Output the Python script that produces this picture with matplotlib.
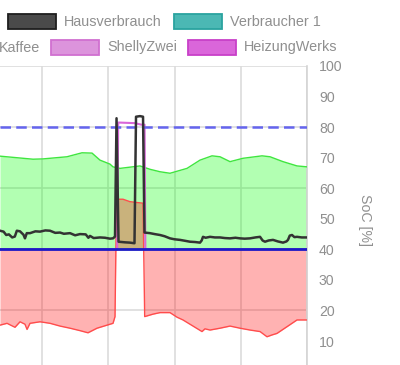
import matplotlib
matplotlib.use('Agg')
import matplotlib.pyplot as plt
from matplotlib.patches import Rectangle

plt.rcParams['font.family'] = ['Liberation Sans', 'DejaVu Sans']

# time axis in hours, values on the SoC scale (power zero line sits at 40)
pv_t = [9.366, 9.864, 10.015, 10.377, 10.604, 10.755, 10.875, 11.026, 11.072, 11.177,
        11.479, 11.630, 11.781, 11.932, 12.189, 12.385, 12.566, 12.687, 12.838, 13.034,
        13.321, 13.442, 13.638, 13.849, 14.0]
pv = [70.5, 69.5, 69.6, 70.3, 71.6, 71.5, 69.2, 67.9, 67.0, 66.5,
      67.3, 66.2, 65.4, 64.9, 66.5, 69.2, 70.6, 70.3, 68.7, 69.8,
      70.6, 70.3, 68.7, 67.3, 67.0]

haus_t = [9.366, 9.42, 9.46, 9.50, 9.55, 9.59, 9.62, 9.668, 9.72, 9.743,
          9.77, 9.819, 9.90, 9.970, 10.05, 10.121, 10.20, 10.272, 10.33, 10.423,
          10.50, 10.574, 10.66, 10.70, 10.725, 10.78, 10.875, 10.95, 11.026, 11.072,
          11.102, 11.125, 11.155, 11.253, 11.328, 11.396, 11.419, 11.479, 11.525, 11.547,
          11.630, 11.70, 11.781, 11.85, 11.932, 12.00, 12.083, 12.16, 12.234, 12.31,
          12.385, 12.41, 12.430, 12.47, 12.536, 12.61, 12.687, 12.76, 12.838, 12.92,
          12.989, 13.06, 13.140, 13.22, 13.291, 13.33, 13.366, 13.42, 13.487, 13.56,
          13.638, 13.69, 13.713, 13.74, 13.774, 13.81, 13.849, 13.92, 14.0]
haus = [46.1, 45.8, 44.7, 44.9, 43.9, 44.2, 46.1, 45.9, 44.8, 43.6,
        45.3, 45.3, 45.9, 45.8, 46.2, 46.1, 45.4, 45.5, 45.1, 45.3,
        44.6, 45.0, 44.9, 43.8, 44.4, 43.7, 43.9, 43.8, 43.5, 43.6,
        44.2, 82.9, 42.5, 42.3, 42.2, 42.0, 83.4, 83.6, 83.4, 45.5,
        45.3, 45.0, 44.7, 44.3, 43.6, 43.3, 43.1, 42.8, 42.5, 42.4,
        42.2, 42.9, 44.1, 43.8, 44.1, 43.9, 43.9, 43.7, 43.6, 43.8,
        43.6, 43.5, 43.6, 43.9, 44.1, 42.9, 42.5, 42.9, 43.1, 42.6,
        42.2, 42.6, 43.1, 44.5, 44.7, 44.0, 44.1, 43.9, 43.9]

netz_t = [9.366, 9.472, 9.592, 9.668, 9.743, 9.774, 9.819, 9.970, 10.121, 10.272,
          10.423, 10.574, 10.694, 10.830, 10.981, 11.072, 11.102, 11.125, 11.223, 11.328,
          11.525, 11.550, 11.675, 11.781, 11.932, 12.038, 12.128, 12.279, 12.415, 12.460,
          12.536, 12.687, 12.838, 12.989, 13.140, 13.291, 13.396, 13.472, 13.547, 13.698,
          13.849, 14.0]
netz = [15.2, 15.8, 14.5, 16.3, 15.5, 13.8, 15.8, 16.3, 15.8, 14.9,
        14.2, 13.4, 12.7, 14.2, 15.2, 15.8, 18.0, 56.4, 56.4, 55.6,
        55.1, 18.0, 18.8, 19.3, 19.3, 17.8, 16.9, 14.9, 13.1, 14.0,
        13.6, 14.2, 14.9, 14.2, 13.6, 13.1, 11.4, 12.0, 12.5, 14.7,
        16.9, 16.9]

heizung_t = [9.366, 11.135, 11.150, 11.40, 11.50, 11.548, 11.560, 14.0]
heizung = [40, 40, 81.5, 81.3, 80.8, 80.8, 40, 40]

batterie_t = [9.366, 14.0]
batterie = [40, 40]
soc = [80, 80]

hours = [10, 11, 12, 13, 14]
grid_levels = [0, 20, 40, 60, 80, 100]
soc_ticks = list(range(10, 101, 10))

legend_rows = [
    [('Hausverbrauch', '#4a4a4a', '#1e1e1e', 8, 21.5),
     ('Verbraucher 1', '#4bb8b4', '#2aa39f', 174, 21.5)],
    [('Kaffee', None, None, -57, 47.5),
     ('ShellyZwei', '#dc94dc', '#d070d0', 51, 47.5),
     ('HeizungWerks', '#da66da', '#c840c8', 188, 47.5)],
]

text_col = '#8f8f8f'
W, H = 400, 365

fig = plt.figure(figsize=(4, 3.65), dpi=100)
ax = fig.add_axes([0, -0.0181, 0.7675, 0.8373])
ax.set_xlim(9.366, 14.0)
ax.set_ylim(0, 100)
ax.set_xticks(hours)
ax.set_yticks(grid_levels)
ax.grid(True, color='#dcdcdc', lw=1.2, zorder=0)
ax.set_axisbelow(True)
ax.tick_params(length=0, labelbottom=False, labelleft=False)
for s in ['left', 'top', 'bottom']:
    ax.spines[s].set_visible(False)
ax.spines['right'].set_color('#d4d4d4')
ax.spines['right'].set_linewidth(1.2)

ax.fill_between(pv_t, pv, 40, color=(0, 1, 0, 0.3), lw=0, zorder=2)
ax.fill_between(netz_t, netz, 40, color=(1, 0, 0, 0.3), lw=0, zorder=2.1, interpolate=True)
ax.plot(pv_t, pv, color='#3fe63f', lw=1, zorder=3)
ax.plot(netz_t, netz, color='#ff4c4c', lw=1, zorder=3)
ax.plot(heizung_t, heizung, color='#d966d9', lw=1.5, zorder=3.2)
ax.plot(batterie_t, soc, color='#6464ee', lw=1.8, dashes=(4.2, 2.1), zorder=3.3)
ax.plot(haus_t, haus, color='#333333', lw=1.8, zorder=3.5)
ax.plot(batterie_t, batterie, color='#1a1ac4', lw=2, zorder=3.6)

ax2 = ax.twinx()
ax2.set_ylim(0, 100)
ax2.set_yticks(soc_ticks)
ax2.tick_params(length=0, pad=8.6, labelsize=10.2, labelcolor=text_col)
for s in ['left', 'top', 'bottom', 'right']:
    ax2.spines[s].set_visible(False)
ax2.set_ylabel('SoC [%]', rotation=270, fontsize=10.2, color=text_col)
ax2.yaxis.set_label_coords(365 / 307, 0.496)
ax2.yaxis.label.set_va('center')
ax2.yaxis.label.set_ha('center')

# legend (Chart.js style boxes)
for row in legend_rows:
    for label, face, edge, x, yc in row:
        if face is not None:
            fig.add_artist(Rectangle((x / W, 1 - (yc + 7.5) / H), 48 / W, 15 / H,
                                     facecolor=face, edgecolor=edge, lw=1.3,
                                     transform=fig.transFigure))
        fig.text((x + 56) / W, 1 - yc / H, label, fontsize=10.4, color=text_col,
                 ha='left', va='center')

fig.savefig('out.png', dpi=100)
